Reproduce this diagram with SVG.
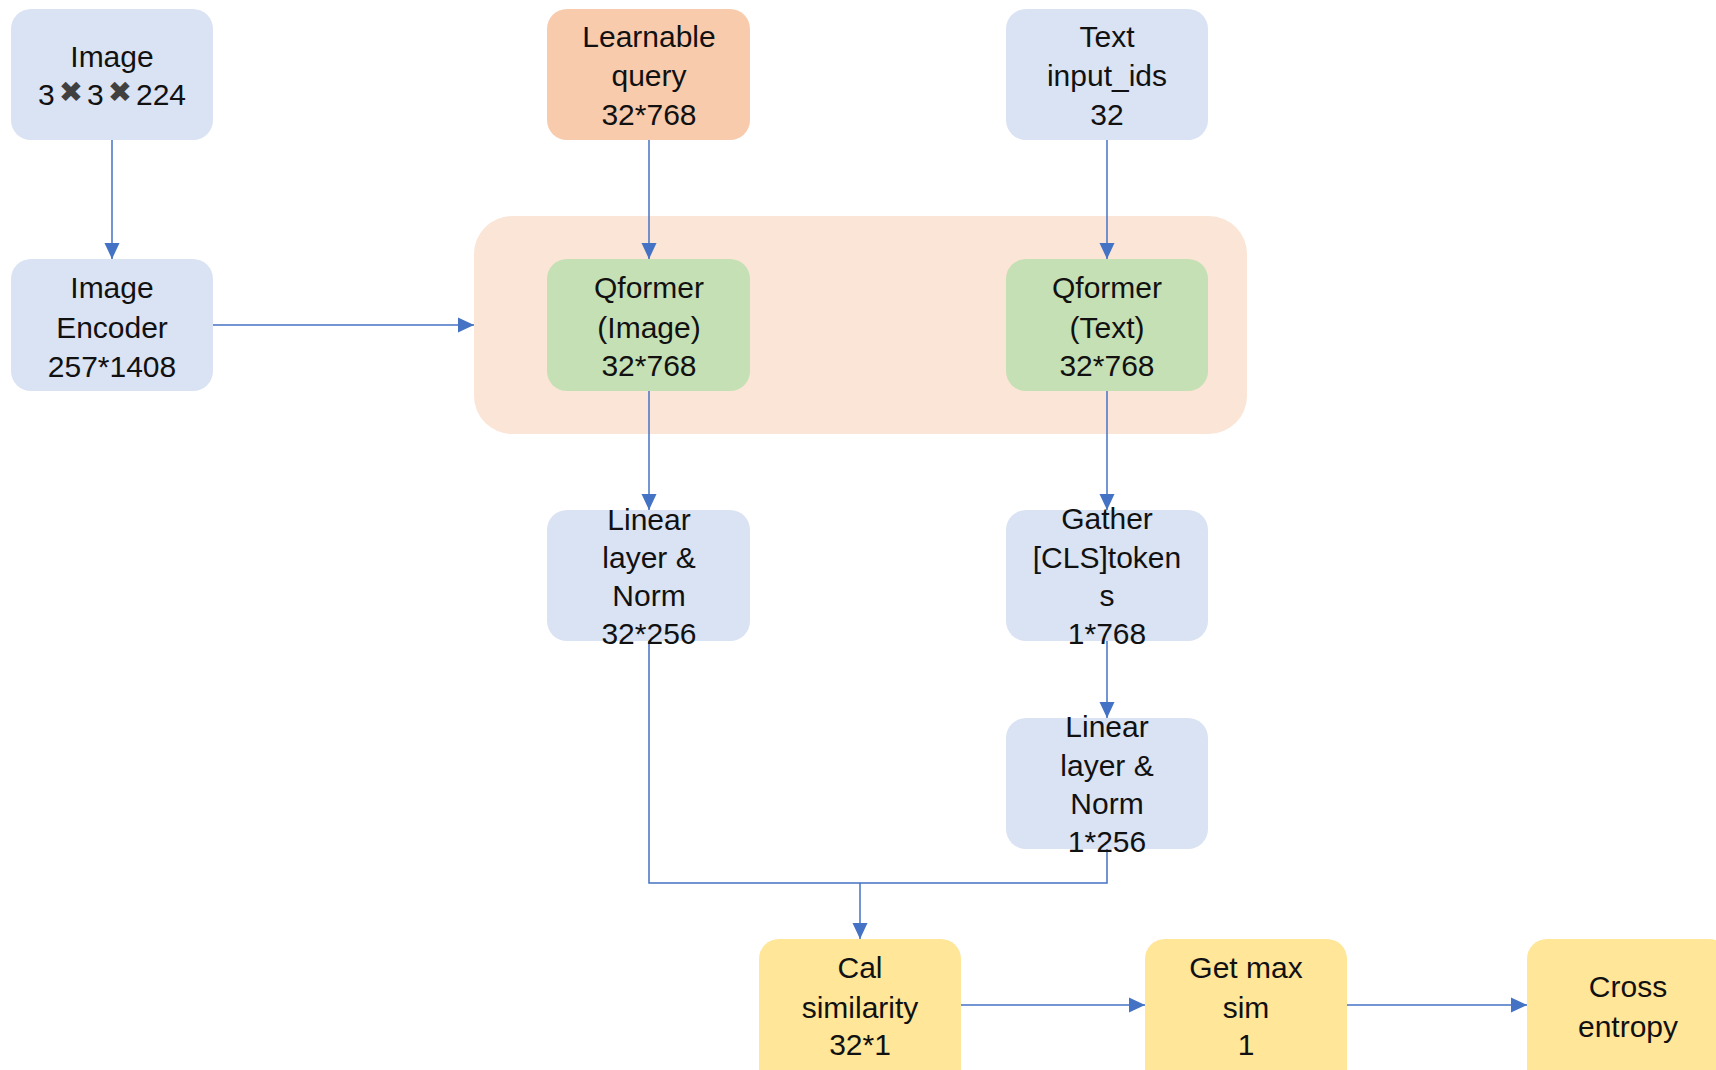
<svg xmlns="http://www.w3.org/2000/svg" width="1716" height="1070" viewBox="0 0 1716 1070">
  <style>
    .node { stroke: none; }
    .blue { fill: #DAE3F3; }
    .orange { fill: #F8CBAD; }
    .green { fill: #C5E0B4; }
    .yellow { fill: #FFE699; }
    .group { fill: #FBE5D6; }
    text { font-family: "Liberation Sans", Arial, sans-serif; font-size: 30px; fill: #111; text-anchor: middle; }
    .times { font-family: "DejaVu Sans", sans-serif; font-size: 29px; fill: #404040; }
    .link { fill: none; stroke: #4472C4; stroke-width: 1.5; }
  </style>
  <defs>
    <marker id="arrow" markerUnits="userSpaceOnUse" markerWidth="16" markerHeight="16" viewBox="0 0 16 16" refX="16" refY="8" orient="auto">
      <path d="M0,0.5 L16,8 L0,15.5 Z" fill="#4472C4"/>
    </marker>
  </defs>

  <!-- Q-Former container -->
  <g id="qformer-block">
    <rect class="group" x="474" y="216" width="773" height="218" rx="38" ry="38"/>
  </g>

  <!-- connectors -->
  <g id="connectors">
    <line class="link" x1="112" y1="140" x2="112" y2="259" marker-end="url(#arrow)"/>
    <line class="link" x1="649" y1="140" x2="649" y2="259" marker-end="url(#arrow)"/>
    <line class="link" x1="1107" y1="140" x2="1107" y2="259" marker-end="url(#arrow)"/>
    <line class="link" x1="213" y1="325" x2="474" y2="325" marker-end="url(#arrow)"/>
    <line class="link" x1="649" y1="391" x2="649" y2="510" marker-end="url(#arrow)"/>
    <line class="link" x1="1107" y1="391" x2="1107" y2="510" marker-end="url(#arrow)"/>
    <line class="link" x1="1107" y1="641" x2="1107" y2="718" marker-end="url(#arrow)"/>
    <polyline class="link" points="649,641 649,883 1107,883 1107,849"/>
    <line class="link" x1="860" y1="883" x2="860" y2="939" marker-end="url(#arrow)"/>
    <line class="link" x1="961" y1="1005" x2="1145" y2="1005" marker-end="url(#arrow)"/>
    <line class="link" x1="1347" y1="1005" x2="1527" y2="1005" marker-end="url(#arrow)"/>
  </g>

  <g id="image">
    <rect class="node blue" x="11" y="9" width="202" height="131" rx="20"/>
    <text x="112" y="67">Image</text>
    <text x="112" y="105">3<tspan class="times" dx="4" dy="-3">✖</tspan><tspan dx="4" dy="3">3</tspan><tspan class="times" dx="4" dy="-3">✖</tspan><tspan dx="4" dy="3">224</tspan></text>
  </g>

  <g id="learnable-query">
    <rect class="node orange" x="547" y="9" width="203" height="131" rx="20"/>
    <text x="649" y="47">Learnable</text>
    <text x="649" y="86">query</text>
    <text x="649" y="125">32*768</text>
  </g>

  <g id="text-input">
    <rect class="node blue" x="1006" y="9" width="202" height="131" rx="20"/>
    <text x="1107" y="47">Text</text>
    <text x="1107" y="86">input_ids</text>
    <text x="1107" y="125">32</text>
  </g>

  <g id="image-encoder">
    <rect class="node blue" x="11" y="259" width="202" height="132" rx="20"/>
    <text x="112" y="298">Image</text>
    <text x="112" y="338">Encoder</text>
    <text x="112" y="377">257*1408</text>
  </g>

  <g id="qformer-image">
    <rect class="node green" x="547" y="259" width="203" height="132" rx="20"/>
    <text x="649" y="298">Qformer</text>
    <text x="649" y="338">(Image)</text>
    <text x="649" y="376">32*768</text>
  </g>

  <g id="qformer-text">
    <rect class="node green" x="1006" y="259" width="202" height="132" rx="20"/>
    <text x="1107" y="298">Qformer</text>
    <text x="1107" y="338">(Text)</text>
    <text x="1107" y="376">32*768</text>
  </g>

  <g id="image-projection">
    <rect class="node blue" x="547" y="510" width="203" height="131" rx="20"/>
    <text x="649" y="530">Linear</text>
    <text x="649" y="568">layer &amp;</text>
    <text x="649" y="606">Norm</text>
    <text x="649" y="644">32*256</text>
  </g>

  <g id="gather-cls">
    <rect class="node blue" x="1006" y="510" width="202" height="131" rx="20"/>
    <text x="1107" y="529">Gather</text>
    <text x="1107" y="568">[CLS]token</text>
    <text x="1107" y="606">s</text>
    <text x="1107" y="644">1*768</text>
  </g>

  <g id="text-projection">
    <rect class="node blue" x="1006" y="718" width="202" height="131" rx="20"/>
    <text x="1107" y="737">Linear</text>
    <text x="1107" y="776">layer &amp;</text>
    <text x="1107" y="814">Norm</text>
    <text x="1107" y="852">1*256</text>
  </g>

  <g id="cal-similarity">
    <rect class="node yellow" x="759" y="939" width="202" height="150" rx="20"/>
    <text x="860" y="978">Cal</text>
    <text x="860" y="1018">similarity</text>
    <text x="860" y="1055">32*1</text>
  </g>

  <g id="get-max-sim">
    <rect class="node yellow" x="1145" y="939" width="202" height="150" rx="20"/>
    <text x="1246" y="978">Get max</text>
    <text x="1246" y="1018">sim</text>
    <text x="1246" y="1055">1</text>
  </g>

  <g id="cross-entropy">
    <rect class="node yellow" x="1527" y="939" width="202" height="150" rx="20"/>
    <text x="1628" y="997">Cross</text>
    <text x="1628" y="1037">entropy</text>
  </g>
</svg>
